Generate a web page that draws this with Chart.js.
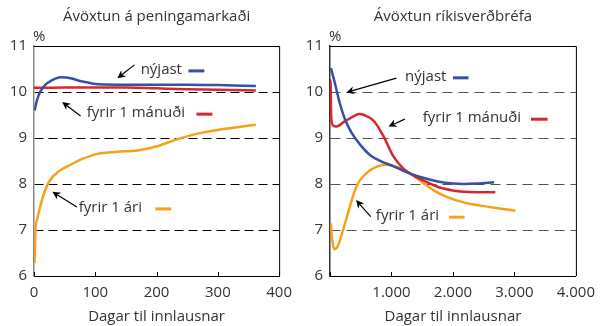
<!DOCTYPE html>
<html><head><meta charset="utf-8">
<script src="https://cdn.jsdelivr.net/npm/chart.js@4.4.1/dist/chart.umd.min.js"></script>
<style>
html,body{margin:0;padding:0;background:#fff;}
#wrap{position:relative;width:603px;height:326px;overflow:hidden;}
canvas{position:absolute;top:0;}
</style></head><body>
<div id="wrap">
<canvas id="cL" width="300" height="326" style="left:0"></canvas>
<canvas id="cR" width="303" height="326" style="left:300px"></canvas>
</div>
<script>
// ---------- data ----------
const titleL = 'Ávöxtun á peningamarkaði';
const titleR = 'Ávöxtun ríkisverðbréfa';
const xTitle = 'Dagar til innlausnar';
const seriesNames = ['nýjast', 'fyrir 1 mánuði', 'fyrir 1 ári'];
const yTickLabels = ['6', '7', '8', '9', '10', '11'];
const xTickLabelsL = ['0', '100', '200', '300', '400'];
const xTickLabelsR = ['', '1.000', '2.000', '3.000', '4.000'];

// left panel (money market)
const daysBlueL = [1, 5, 10, 18, 25, 35, 45, 60, 75, 90, 105, 150, 200, 250, 300, 362];
const blueL     = [9.6, 9.83, 10.0, 10.15, 10.22, 10.29, 10.32, 10.3, 10.24, 10.2, 10.17, 10.16, 10.16, 10.16, 10.15, 10.13];
const daysRedL  = [0, 50, 100, 150, 200, 250, 300, 362];
const redL      = [10.09, 10.1, 10.1, 10.1, 10.08, 10.06, 10.05, 10.03];
const daysOrgL  = [1, 2.5, 5, 9, 17, 25, 41, 57, 80, 105, 137, 169, 201, 233, 265, 297, 329, 362];
const orgL      = [6.29, 7.0, 7.22, 7.45, 7.82, 8.06, 8.28, 8.4, 8.55, 8.66, 8.7, 8.73, 8.82, 8.97, 9.09, 9.17, 9.23, 9.29];

// right panel (government bonds)
const daysBlueR = [15, 80, 160, 240, 345, 500, 660, 850, 1030, 1240, 1500, 1770, 2000, 2170, 2400, 2670];
const blueR     = [10.52, 10.19, 9.75, 9.42, 9.13, 8.84, 8.62, 8.48, 8.39, 8.26, 8.14, 8.05, 8.01, 8.0, 8.01, 8.04];
const daysRedR  = [3, 8, 20, 50, 106, 238, 397, 480, 556, 714, 873, 1032, 1190, 1349, 1561, 1772, 2000, 2169, 2400, 2690];
const redR      = [9.45, 10.26, 9.45, 9.27, 9.25, 9.36, 9.48, 9.52, 9.5, 9.37, 9.03, 8.6, 8.34, 8.19, 8.05, 7.93, 7.86, 7.83, 7.82, 7.82];
const daysOrgR  = [10, 40, 70, 130, 212, 291, 370, 450, 556, 700, 900, 1111, 1190, 1349, 1508, 1700, 1900, 2169, 2450, 2698, 3016];
const orgR      = [7.15, 6.75, 6.58, 6.66, 7.0, 7.36, 7.72, 8.0, 8.19, 8.34, 8.42, 8.36, 8.32, 8.19, 8.03, 7.85, 7.72, 7.6, 7.53, 7.48, 7.42];

// ---------- styling ----------
const BLUE = '#3650a2', RED = '#d7262e', ORANGE = '#f7a11a', TXT = '#333333';
const FONT = '"Open Sans", "Noto Sans", sans-serif';
Chart.defaults.font.family = FONT;
Chart.defaults.color = TXT;

// annotation callouts, in data units
const annotL = [
  {name: 0, color: BLUE,   tx: 174, ty: 10.48, d0: 252, d1: 278, tail: [164, 10.59], head: [136, 10.30]},
  {name: 1, color: RED,    tx: 86,  ty: 9.54,  d0: 265, d1: 291, tail: [76, 9.48],   head: [46, 9.78]},
  {name: 2, color: ORANGE, tx: 73,  ty: 7.48,  d0: 198, d1: 224, tail: [70, 7.5],    head: [30, 7.83]}
];
const annotR = [
  {name: 0, color: BLUE,   tx: 1222, ty: 10.33, d0: 2000, d1: 2254, tail: [1079, 10.30], head: [265, 9.99]},
  {name: 1, color: RED,    tx: 1508, ty: 9.43,  d0: 3270, d1: 3540, tail: [1217, 9.41],  head: [952, 9.25]},
  {name: 2, color: ORANGE, tx: 746,  ty: 7.30,  d0: 1937, d1: 2190, tail: [662, 7.29],   head: [424, 7.65]}
];

function pts(xs, ys) { return xs.map((x, i) => ({x: x, y: ys[i]})); }

function ds(label, xs, ys, color) {
  return {label, data: pts(xs, ys), borderColor: color, backgroundColor: color,
    borderWidth: 2.5, pointRadius: 0, cubicInterpolationMode: 'monotone', fill: false};
}

const decor = {
  id: 'decor',
  afterDraw(chart, args, opts) {
    const ctx = chart.ctx, a = chart.chartArea, xs = chart.scales.x, ys = chart.scales.y;
    ctx.save();
    // top & right frame
    ctx.strokeStyle = '#000'; ctx.lineWidth = 1;
    ctx.beginPath();
    ctx.moveTo(a.left, a.top + 0.5); ctx.lineTo(a.right + 0.5, a.top + 0.5); ctx.lineTo(a.right + 0.5, a.bottom);
    ctx.stroke();
    // inward x ticks
    ctx.beginPath();
    xs.ticks.forEach(t => {
      const px = Math.round(xs.getPixelForValue(t.value)) + 0.5;
      ctx.moveTo(px, a.bottom); ctx.lineTo(px, a.bottom - 4);
    });
    ctx.stroke();
    // % sign
    ctx.fillStyle = TXT;
    ctx.font = '15px ' + FONT;
    ctx.textBaseline = 'middle'; ctx.textAlign = 'left';
    ctx.fillText('%', a.left - 1, a.top - 9);
    // callouts
    opts.items.forEach(it => {
      const ty = ys.getPixelForValue(it.ty);
      ctx.fillStyle = TXT;
      ctx.fillText(seriesNames[it.name], xs.getPixelForValue(it.tx), ty);
      ctx.strokeStyle = it.color; ctx.lineWidth = 3;
      ctx.beginPath();
      ctx.moveTo(xs.getPixelForValue(it.d0), ty + 1);
      ctx.lineTo(xs.getPixelForValue(it.d1), ty + 1);
      ctx.stroke();
      // arrow
      const x0 = xs.getPixelForValue(it.tail[0]), y0 = ys.getPixelForValue(it.tail[1]);
      const x1 = xs.getPixelForValue(it.head[0]), y1 = ys.getPixelForValue(it.head[1]);
      const ang = Math.atan2(y1 - y0, x1 - x0);
      const L = 8, W = 4;
      ctx.strokeStyle = '#000'; ctx.lineWidth = 1.2;
      ctx.beginPath();
      ctx.moveTo(x0, y0);
      ctx.lineTo(x1 - Math.cos(ang) * L * 0.7, y1 - Math.sin(ang) * L * 0.7);
      ctx.stroke();
      ctx.fillStyle = '#000';
      ctx.beginPath();
      ctx.moveTo(x1, y1);
      ctx.lineTo(x1 - Math.cos(ang) * L + Math.sin(ang) * W, y1 - Math.sin(ang) * L - Math.cos(ang) * W);
      ctx.lineTo(x1 - Math.cos(ang) * L * 0.7, y1 - Math.sin(ang) * L * 0.7);
      ctx.lineTo(x1 - Math.cos(ang) * L - Math.sin(ang) * W, y1 - Math.sin(ang) * L + Math.cos(ang) * W);
      ctx.closePath();
      ctx.fill();
    });
    ctx.restore();
  }
};

function makeChart(id, title, datasets, xMax, xStep, xLabels, yWidth, padRight, gridColor, dash, yBorder, items) {
  return new Chart(document.getElementById(id), {
    type: 'line',
    data: {datasets},
    plugins: [decor],
    options: {
      responsive: false, animation: false, devicePixelRatio: 1,
      layout: {padding: {left: 0, right: padRight, top: 0, bottom: 0}},
      plugins: {
        legend: {display: false}, tooltip: {enabled: false},
        title: {display: true, text: title, fullSize: false, color: TXT,
          font: {size: 15, weight: 'normal', lineHeight: 1.2}, padding: {top: 8, bottom: 20}},
        decor: {items}
      },
      scales: {
        x: {
          type: 'linear', min: 0, max: xMax,
          grid: {display: false, drawTicks: false},
          border: {display: true, color: '#000', width: 1},
          ticks: {stepSize: xStep, padding: 8, color: TXT, font: {size: 15},
            maxRotation: 0, autoSkip: false,
            callback: (v, i) => xLabels[i]},
          title: {display: true, text: xTitle, color: TXT, font: {size: 15, lineHeight: 1.2},
            padding: {top: 2, bottom: 0}},
          afterFit: s => { s.height = 50; }
        },
        y: {
          type: 'linear', min: 6, max: 11,
          grid: {drawTicks: false, lineWidth: 1,
            color: c => (c.tick && c.tick.value > 6 && c.tick.value < 11) ? gridColor : 'rgba(0,0,0,0)'},
          border: {display: true, color: yBorder, width: 1.5, dash: dash},
          ticks: {stepSize: 1, padding: 7, color: TXT, font: {size: 15},
            callback: (v, i) => yTickLabels[i]},
          afterFit: s => { s.width = yWidth; }
        }
      }
    }
  });
}

makeChart('cL', titleL, [
  ds(seriesNames[0], daysBlueL, blueL, BLUE),
  ds(seriesNames[1], daysRedL, redL, RED),
  ds(seriesNames[2], daysOrgL, orgL, ORANGE)
], 400, 100, xTickLabelsL, 34, 16, '#000', [9, 5], '#888', annotL);

makeChart('cR', titleR, [
  ds(seriesNames[0], daysBlueR, blueR, BLUE),
  ds(seriesNames[1], daysRedR, redR, RED),
  ds(seriesNames[2], daysOrgR, orgR, ORANGE)
], 4000, 1000, xTickLabelsR, 30, 21, '#555', [10, 6], '#333', annotR);
</script>
</body></html>
